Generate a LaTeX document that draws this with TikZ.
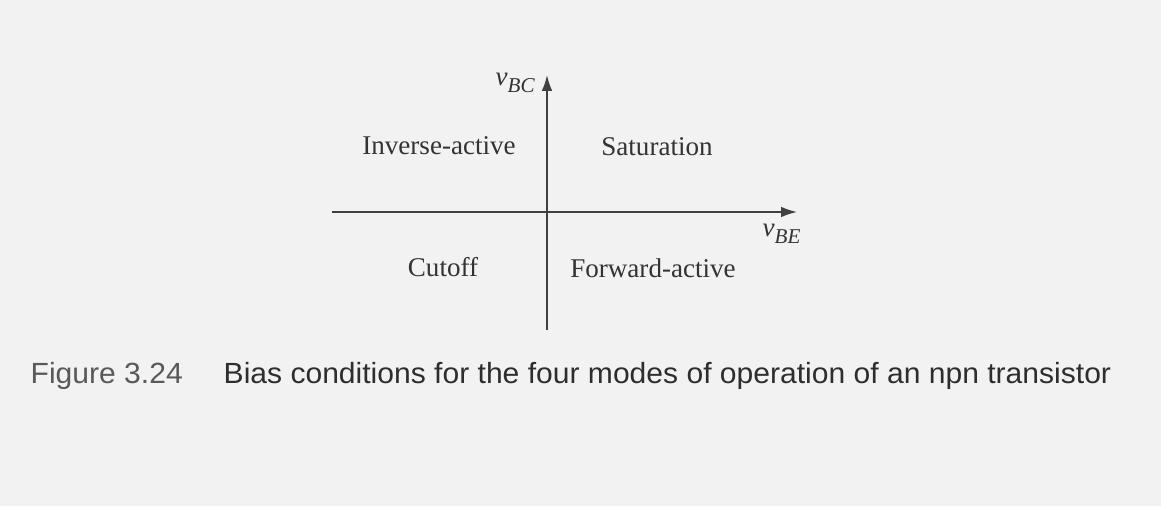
\documentclass[tikz,border=0pt]{standalone}
\usepackage{fontspec}
\setmainfont{Liberation Serif}
\newfontfamily\labfont{Liberation Serif}
\newfontfamily\capfont[FakeStretch=1.03]{Liberation Sans}
\usetikzlibrary{arrows.meta}
\tikzset{
  axis/.style={draw=black!75,line width=.5pt,-{Latex[length=4.5pt,width=3pt]}},
  region/.style={anchor=base,inner sep=0pt,text=black!80,font=\labfont\fontsize{7.7pt}{9pt}\selectfont},
  varlab/.style={anchor=base west,inner sep=0pt,text=black!80,font=\labfont\fontsize{7.7pt}{9pt}\selectfont\itshape},
  caption/.style={anchor=base west,inner sep=0pt,font=\capfont\fontsize{8.3pt}{10pt}\selectfont}
}
\newcommand{\sublab}[1]{\raisebox{-.07cm}{\fontsize{6pt}{7pt}\selectfont #1}}
\begin{document}
\begin{tikzpicture}[x=.01cm,y=-.01cm]
    \fill[black!5] (0,0) rectangle (1161,506);
    \useasboundingbox (0,0) rectangle (1161,506);
    % axes
    \coordinate (xl) at (332,212);
    \coordinate (xr) at (797,212);
    \coordinate (yb) at (547,330);
    \coordinate (yt) at (547,75);
    \draw[axis] (xl)--(xr);
    \draw[axis] (yb)--(yt);
    \node[varlab] (vbc) at (495,85) {v\sublab{BC}};
    \node[varlab] (vbe) at (762,236) {v\sublab{BE}};
    % the four modes
    \node[region] (inv) at (439,154) {Inverse-active};
    \node[region] (sat) at (657,155) {Saturation};
    \node[region] (cut) at (443,276) {Cutoff};
    \node[region] (fwd) at (653,277) {Forward-active};
    % caption
    \node[caption,text=black!65] (fig) at (30,383) {Figure 3.24};
    \node[caption,text=black!82] (cap) at (223,383) {Bias conditions for the four modes of operation of an npn transistor};
\end{tikzpicture}
\end{document}
